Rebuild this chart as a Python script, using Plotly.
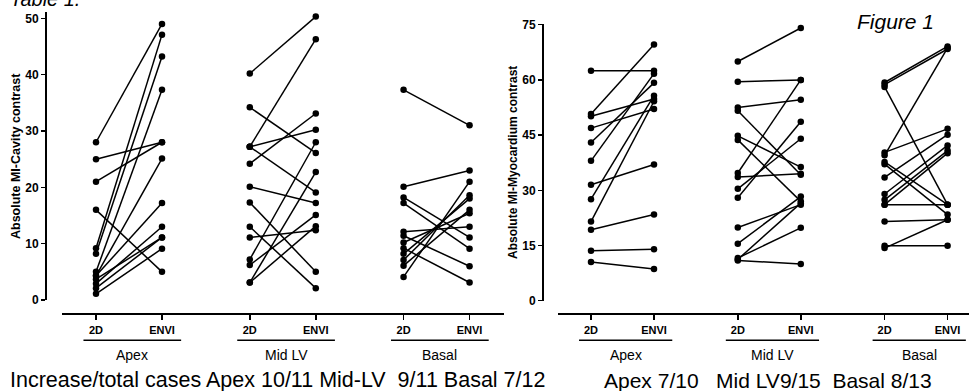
import plotly.graph_objects as go

W, H = 969, 391

# ---------------- data ----------------
groups = ["Apex", "Mid LV", "Basal"]
ticklabels = ["2D", "ENVI"]

# Left panel: Absolute MI-Cavity contrast
cav_apex_2d = [28.0, 25.0, 21.0, 16.0, 9.2, 8.2, 5.0, 4.3, 4.3, 3.7, 2.9, 2.1, 1.1]
cav_apex_envi = [49.0, 28.0, 28.0, 5.0, 47.1, 43.2, 37.3, 25.1, 17.2, 11.1, 13.0, 11.1, 9.1]
cav_mid_2d = [40.2, 34.2, 27.2, 27.2, 27.2, 24.2, 20.1, 17.3, 13.0, 11.1, 7.2, 6.2, 3.1, 3.1]
cav_mid_envi = [50.3, 26.1, 46.3, 30.2, 19.1, 33.1, 17.2, 5.0, 2.1, 12.4, 28.0, 15.1, 22.7, 13.1]
cav_bas_2d = [37.3, 20.1, 18.2, 17.2, 12.1, 11.4, 10.2, 9.2, 8.2, 7.1, 6.1, 4.1]
cav_bas_envi = [31.0, 23.0, 11.1, 9.1, 13.0, 6.0, 15.4, 3.1, 18.0, 18.6, 16.0, 21.0]

# Right panel: Absolute MI-Myocardium contrast
myo_apex_2d = [62.5, 50.7, 50.1, 46.9, 43.0, 38.0, 31.5, 27.6, 21.5, 19.3, 13.6, 10.5]
myo_apex_envi = [62.5, 69.6, 54.8, 52.1, 59.2, 61.7, 37.0, 55.7, 54.2, 23.4, 14.0, 8.6]
myo_mid_2d = [65.0, 59.5, 52.5, 51.6, 44.8, 43.7, 34.7, 33.6, 30.4, 28.0, 19.9, 15.5, 11.6, 10.9, 11.2]
myo_mid_envi = [74.1, 60.0, 54.6, 34.2, 36.3, 27.0, 60.0, 34.5, 44.0, 48.6, 26.1, 28.3, 19.8, 10.0, 26.5]
myo_bas_2d = [59.3, 58.7, 58.1, 40.3, 39.5, 37.7, 37.1, 33.5, 29.0, 27.4, 26.1, 26.1, 21.5, 14.9, 14.3]
myo_bas_envi = [69.1, 68.4, 26.1, 46.7, 68.7, 26.1, 23.4, 45.1, 42.2, 40.8, 26.1, 40.1, 22.0, 14.9, 22.0]

cav_ticks = [0, 10, 20, 30, 40, 50]
myo_ticks = [0, 15, 30, 45, 60, 75]

cav_title = "Absolute MI-Cavity contrast"
myo_title = "Absolute MI-Myocardium contrast"
left_note = "Increase/total cases Apex 10/11 Mid-LV\u00a0\u00a09/11 Basal 7/12"
right_note = "Apex 7/10\u00a0\u00a0\u00a0Mid LV9/15\u00a0\u00a0Basal 8/13"

# ---------------- layout helpers ----------------
FONT = "Liberation Sans, Arial, sans-serif"
group_pos = [0.0, 2.33, 4.66]


def px(x):
    return x / W


def py(y):
    return 1 - y / H


fig = go.Figure()


def add_panel(pairs, xa, ya):
    for g, (a, b) in zip(group_pos, pairs):
        xs, ys = [], []
        for v0, v1 in zip(a, b):
            xs += [g, g + 1, None]
            ys += [v0, v1, None]
        fig.add_trace(go.Scatter(
            x=xs, y=ys, mode="lines+markers", xaxis=xa, yaxis=ya,
            line=dict(color="black", width=1.5),
            marker=dict(color="black", size=6.5),
            cliponaxis=False, showlegend=False, hoverinfo="skip"))


add_panel([(cav_apex_2d, cav_apex_envi), (cav_mid_2d, cav_mid_envi),
           (cav_bas_2d, cav_bas_envi)], "x", "y")
add_panel([(myo_apex_2d, myo_apex_envi), (myo_mid_2d, myo_mid_envi),
           (myo_bas_2d, myo_bas_envi)], "x2", "y2")

tickvals = []
ticktext = []
for g in group_pos:
    tickvals += [g, g + 1]
    ticktext += ticklabels

xaxis_common = dict(
    anchor="free", position=py(314.3), showline=True, linecolor="black",
    linewidth=2, ticks="outside", ticklen=5, tickwidth=1.5, tickcolor="black",
    tickvals=tickvals, ticktext=ticktext, showgrid=False, zeroline=False,
    automargin=False,
    tickfont=dict(family=FONT, size=11, color="black", weight="bold"),
    fixedrange=True)
yaxis_common = dict(
    anchor="free", showline=True, linecolor="black", linewidth=2,
    ticks="outside", ticklen=4, tickwidth=1.5, tickcolor="black",
    showgrid=False, zeroline=False, automargin=False,
    tickfont=dict(family=FONT, size=12, color="black", weight="bold"),
    fixedrange=True)

L_U, L_X0 = 66.0, 96.0
R_U, R_X0 = 63.0, 591.0

fig.update_layout(
    width=W, height=H, margin=dict(l=0, r=0, t=0, b=0, pad=0),
    paper_bgcolor="white", plot_bgcolor="white", showlegend=False,
    xaxis=dict(xaxis_common, domain=[px(62), px(504)],
               range=[(62 - L_X0) / L_U, (504 - L_X0) / L_U]),
    xaxis2=dict(xaxis_common, domain=[px(558), 1.0],
                range=[(558 - R_X0) / R_U, (969 - R_X0) / R_U]),
    yaxis=dict(yaxis_common, position=px(46), domain=[py(300), py(12)],
               range=[0, (300 - 12) / 5.634], tickvals=cav_ticks),
    yaxis2=dict(yaxis_common, position=px(543), domain=[py(300.7), py(24)],
                range=[0, (300.7 - 24) / 3.68], tickvals=myo_ticks),
)

shapes = []
annotations = []
for xr in ["x", "x2"]:
    for g, name in zip(group_pos, groups):
        shapes.append(dict(type="line", xref=xr, yref="paper",
                           x0=g - 0.19, x1=g + 1.29, y0=py(340.3), y1=py(340.3),
                           line=dict(color="black", width=1.5)))
        annotations.append(dict(xref=xr, yref="paper", x=g + 0.55, y=py(355),
                                text=name, showarrow=False, xanchor="center",
                                yanchor="middle",
                                font=dict(family=FONT, size=14, color="black")))

# axis titles
annotations.append(dict(xref="paper", yref="paper", x=px(16), y=py(156),
                        text=cav_title, textangle=-90, showarrow=False,
                        xanchor="center", yanchor="middle",
                        font=dict(family=FONT, size=12.5, color="black", weight="bold")))
annotations.append(dict(xref="paper", yref="paper", x=px(513), y=py(163),
                        text=myo_title, textangle=-90, showarrow=False,
                        xanchor="center", yanchor="middle",
                        font=dict(family=FONT, size=12, color="black", weight="bold")))

# headings
annotations.append(dict(xref="paper", yref="paper", x=px(8), y=py(-1),
                        text="Table 1.", showarrow=False, xanchor="left",
                        yanchor="middle",
                        font=dict(family=FONT, size=20, color="black", style="italic")))
annotations.append(dict(xref="paper", yref="paper", x=px(855), y=py(21),
                        text="Figure 1", showarrow=False, xanchor="left",
                        yanchor="middle",
                        font=dict(family=FONT, size=21, color="black", style="italic")))

# bottom notes
annotations.append(dict(xref="paper", yref="paper", x=px(8), y=py(380),
                        text=left_note, showarrow=False, xanchor="left",
                        yanchor="middle",
                        font=dict(family=FONT, size=21.5, color="black")))
annotations.append(dict(xref="paper", yref="paper", x=px(602), y=py(380),
                        text=right_note, showarrow=False, xanchor="left",
                        yanchor="middle",
                        font=dict(family=FONT, size=21, color="black")))

fig.update_layout(shapes=shapes, annotations=annotations)
fig.write_html("out.html",
               config={"displayModeBar": False, "staticPlot": True},
               post_script="document.body.style.margin='0';"
                           "document.body.style.overflow='hidden';")
